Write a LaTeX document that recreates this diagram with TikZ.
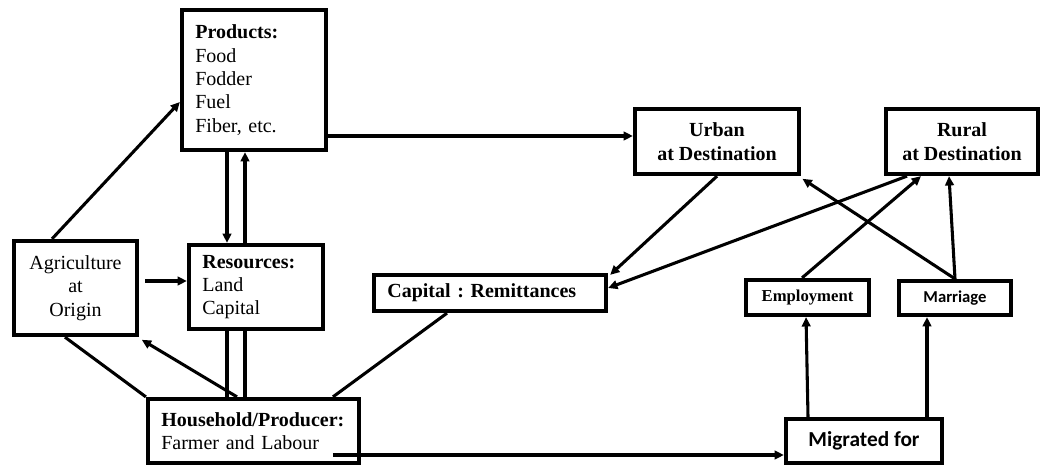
\documentclass[tikz,border=0pt]{standalone}
\usepackage{fontspec}
\setmainfont{Liberation Serif}
\newfontfamily\calfont{Carlito}
\usetikzlibrary{arrows.meta,calc}
\frenchspacing
\begin{document}
\begin{tikzpicture}[x=0.75pt,y=-0.75pt,
  box/.style={draw,line width=3.2pt,inner xsep=10pt,inner ysep=2pt,font=\fontsize{15pt}{17.5pt}\selectfont},
  lbox/.style={box,align=left},
  cbox/.style={box,align=center},
  bbox/.style={box,align=center,font=\fontsize{15pt}{17.5pt}\selectfont\bfseries},
  arr/.style={line width=2.3pt,-{Triangle[length=7pt,width=6.5pt]}},
  ln/.style={line width=2.3pt}]
\useasboundingbox (0,0) rectangle (1044,466);
% nodes
\node[lbox,text width=88pt,minimum height=105pt] (prod) at (254,80) {\textbf{Products:}\\Food\\Fodder\\Fuel\\Fiber, etc.\\[4pt]};
\node[cbox,minimum width=92.25pt,minimum height=70.5pt] (agr) at (75.5,288) {Agriculture\\at\\Origin};
\node[lbox,text width=80.5pt,minimum height=63pt] (res) at (256,287) {\textbf{Resources:}\\Land\\Capital};
\node[lbox,text width=138.25pt,minimum height=48pt] (hh) at (253.5,431) {\textbf{Household/Producer:}\\Farmer and Labour};
\node[lbox,text width=154pt,minimum height=27pt] (cap) at (490,293) {\textbf{Capital : Remittances}};
\node[bbox,minimum width=123pt,minimum height=48.75pt] (urb) at (717,141.5) {Urban\\at Destination};
\node[bbox,minimum width=114pt,minimum height=48.75pt] (rur) at (962,141.5) {Rural\\at Destination};
\node[box,inner xsep=2pt,minimum width=92.25pt,minimum height=26.25pt,font=\fontsize{12.5pt}{15pt}\selectfont\bfseries] (emp) at (807.5,297.5) {Employment};
\node[box,inner xsep=2pt,minimum width=84pt,minimum height=25.5pt,font=\calfont\bfseries\fontsize{12.5pt}{15pt}\selectfont] (mar) at (955,298) {Marriage};
\node[box,inner xsep=2pt,minimum width=117pt,minimum height=33pt,font=\calfont\bfseries\fontsize{16pt}{19pt}\selectfont] (mig) at (864,441) {Migrated for};
% connectors
\draw[arr] ([xshift=-17.6pt]agr.north) -- ([yshift=-16.5pt]prod.west);
\draw[arr] ([xshift=-20.25pt]prod.south) coordinate (a2) -- (a2 |- res.north);
\draw[arr] ([xshift=-8.25pt]res.north) coordinate (a3) -- (a3 |- prod.south);
\coordinate (r4) at ([yshift=4.5pt]res.west);
\draw[arr] ($(agr.east |- r4)+(4.5pt,0)$) -- (r4);
\draw[arr] ([yshift=-42pt]prod.east) coordinate (a5) -- (a5 -| urb.west);
\draw[ln] ([xshift=-21.75pt]res.south) coordinate (l6a) -- (l6a |- hh.north);
\draw[ln] ([xshift=-8.25pt]res.south) coordinate (l6b) -- (l6b |- hh.north);
\draw[arr] ([xshift=-12.4pt]hh.north) -- ([xshift=2pt,yshift=-2pt]agr.south east);
\draw[ln] ([xshift=-7.9pt]agr.south) -- (hh.north west);
\draw[ln] ([xshift=-32.25pt]cap.south) -- ([xshift=59.6pt]hh.north);
\coordinate (m10) at ([yshift=-10.5pt]mig.west);
\draw[arr] ($(hh.center |- m10)+(59.6pt,0)$) -- (m10);
\draw[arr] (urb.south) -- ([xshift=1.5pt,yshift=-1.5pt]cap.north east);
\draw[arr] ([xshift=-41.25pt]rur.south) -- ([yshift=3.75pt]cap.east);
\draw[arr] ([xshift=-4.1pt]emp.north) -- ([xshift=-30.75pt]rur.south);
\draw[arr] (mar.north) -- ([xshift=1pt,yshift=-2pt]urb.south east);
\draw[arr] (mar.north) -- ([xshift=-9.75pt]rur.south);
\draw[arr] ([xshift=-42pt]mig.north) -- ([xshift=-1.1pt]emp.south);
\draw[arr] ([xshift=47.25pt]mig.north) coordinate (a17) -- (a17 |- mar.south);
\end{tikzpicture}
\end{document}
